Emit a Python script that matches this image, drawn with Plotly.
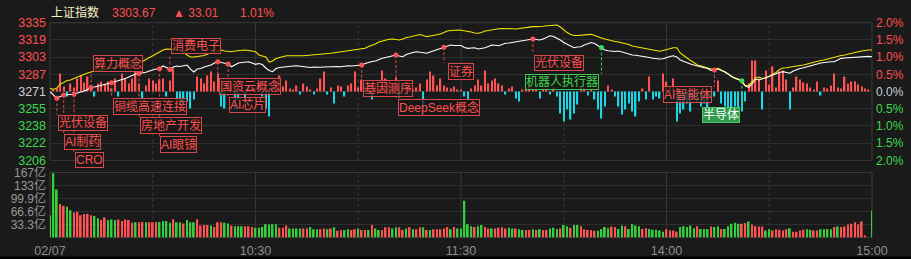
import plotly.graph_objects as go

# ---------------- data ----------------
PRE_CLOSE = 3270.66
INDEX_NAME = "上证指数"

# one value per minute, 09:30 ... 11:30 | 13:01 ... 15:00  (241 points)
price = [
    3270.47, 3267.33, 3264.2, 3265.91, 3267.33, 3267.5, 3267.81, 3268.0, 3269.2, 3269.9,
    3271.1, 3272.6, 3274.5, 3274.9, 3275.9, 3276.4, 3277.3, 3278.3, 3279.0, 3280.2,
    3281.1, 3282.1, 3283.0, 3284.4, 3285.9, 3287.3, 3287.8, 3288.2, 3288.9, 3290.1,
    3291.1, 3292.0, 3292.3, 3294.9, 3293.5, 3291.6, 3294.0, 3294.9, 3294.4, 3295.4,
    3295.8, 3292.0, 3289.2, 3292.0, 3292.5, 3294.0, 3294.9, 3295.8, 3297.8, 3299.0,
    3298.2, 3297.3, 3296.8, 3294.2, 3296.3, 3297.8, 3298.2, 3298.7, 3299.0, 3297.8,
    3296.5, 3297.3, 3296.3, 3293.0, 3290.6, 3289.5, 3292.5, 3293.5, 3294.0, 3294.2,
    3294.4, 3294.9, 3295.2, 3294.9, 3294.4, 3294.0, 3293.5, 3294.0, 3293.5, 3293.7,
    3294.0, 3294.2, 3294.2, 3294.0, 3294.4, 3294.2, 3294.9, 3295.2, 3294.9, 3295.4,
    3295.6, 3295.8, 3297.3, 3298.4, 3299.2, 3299.7, 3301.1, 3302.2, 3303.0, 3303.7,
    3304.9, 3305.4, 3304.4, 3303.7, 3305.8, 3307.0, 3307.7, 3308.5, 3307.9, 3307.7,
    3307.0, 3308.2, 3309.2, 3310.6, 3311.7, 3312.7, 3313.9, 3314.9, 3314.4, 3314.2,
    3314.4, 3312.5, 3311.7, 3312.0, 3312.3, 3311.1, 3311.5, 3312.3, 3313.4, 3314.9,
    3314.6, 3314.2, 3315.3, 3316.5, 3316.8, 3317.4, 3317.7, 3318.0, 3318.7, 3319.6,
    3320.1, 3320.6, 3320.1, 3319.6, 3320.6, 3321.8, 3323.7, 3323.0, 3321.5, 3319.6,
    3317.2, 3315.3, 3313.4, 3312.3, 3313.0, 3313.2, 3314.9, 3315.8, 3317.2, 3316.3,
    3314.4, 3312.5, 3310.1, 3309.4, 3308.7, 3308.7, 3309.2, 3308.2, 3307.0, 3306.3,
    3305.4, 3305.1, 3304.7, 3304.4, 3303.7, 3303.0, 3302.2, 3301.8, 3301.6, 3301.8,
    3302.5, 3303.9, 3304.7, 3303.5, 3300.6, 3299.2, 3297.5, 3296.8, 3295.8, 3295.2,
    3294.4, 3293.3, 3292.5, 3290.6, 3291.1, 3292.0, 3290.6, 3289.5, 3287.3, 3284.7,
    3283.0, 3282.1, 3280.9, 3275.9, 3274.5, 3277.8, 3282.5, 3281.6, 3282.5, 3283.8,
    3284.9, 3286.3, 3287.8, 3288.7, 3289.5, 3288.7, 3288.0, 3290.1, 3291.6, 3292.5,
    3293.3, 3294.0, 3294.9, 3295.8, 3296.8, 3297.8, 3298.4, 3298.7, 3298.9, 3299.0,
    3300.6, 3302.2, 3302.5, 3302.8, 3303.2, 3303.5, 3303.6, 3303.7, 3303.9, 3304.1,
    3303.67,
]

# yellow line (unweighted index)
avg_price = [
    3273.7, 3272.6, 3274.0, 3277.8, 3279.2, 3281.1, 3281.6, 3283.0, 3284.9, 3286.3,
    3287.0, 3288.2, 3289.5, 3290.1, 3290.6, 3291.1, 3291.6, 3292.0, 3292.5, 3293.3,
    3294.0, 3294.7, 3295.4, 3296.1, 3296.8, 3297.8, 3298.4, 3299.2, 3301.1, 3303.0,
    3304.9, 3306.3, 3308.2, 3310.1, 3311.1, 3311.1, 3310.6, 3310.6, 3310.1, 3308.2,
    3305.4, 3303.5, 3303.5, 3303.9, 3304.4, 3304.9, 3306.3, 3307.3, 3308.2, 3309.6,
    3310.1, 3309.2, 3308.7, 3308.5, 3309.2, 3309.6, 3310.1, 3310.1, 3309.6, 3309.2,
    3308.5, 3305.4, 3304.4, 3303.5, 3298.7, 3299.7, 3302.0, 3303.0, 3303.9, 3304.7,
    3304.7, 3304.9, 3304.7, 3304.7, 3304.7, 3304.9, 3305.1, 3305.4, 3305.6, 3306.0,
    3306.3, 3306.6, 3307.0, 3307.5, 3307.9, 3308.2, 3308.7, 3309.2, 3309.6, 3310.1,
    3310.6, 3311.1, 3311.7, 3313.4, 3314.4, 3315.8, 3317.7, 3318.7, 3319.6, 3320.3,
    3320.6, 3320.1, 3319.6, 3320.6, 3322.0, 3322.5, 3323.2, 3323.9, 3324.8, 3323.9,
    3322.8, 3323.4, 3323.9, 3324.4, 3325.3, 3326.7, 3328.2, 3328.6, 3329.1, 3329.1,
    3328.9, 3328.5, 3328.2, 3327.2, 3326.3, 3326.0, 3326.7, 3328.2, 3328.6, 3329.3,
    3330.1, 3330.3, 3330.6, 3330.7, 3330.6, 3330.3, 3330.1, 3330.6, 3331.2, 3332.0,
    3332.3, 3332.3, 3332.3, 3332.3, 3332.7, 3333.2, 3333.4, 3333.7, 3333.9, 3332.0,
    3329.1, 3326.7, 3324.8, 3323.9, 3323.9, 3324.2, 3324.4, 3324.7, 3325.0, 3323.9,
    3322.5, 3321.5, 3320.6, 3319.6, 3319.1, 3318.2, 3317.7, 3317.0, 3316.5, 3315.3,
    3313.9, 3313.2, 3312.5, 3311.8, 3311.1, 3310.4, 3309.8, 3309.2, 3308.9, 3309.6,
    3310.6, 3311.5, 3312.3, 3312.3, 3307.3, 3304.9, 3302.2, 3300.1, 3298.2, 3295.8,
    3295.1, 3294.2, 3293.5, 3292.0, 3292.0, 3292.7, 3291.1, 3289.5, 3287.3, 3284.7,
    3283.5, 3282.5, 3279.2, 3276.4, 3276.4, 3279.7, 3283.5, 3284.4, 3283.0, 3283.5,
    3285.4, 3287.3, 3288.7, 3291.6, 3293.0, 3293.3, 3294.0, 3294.4, 3294.9, 3295.4,
    3295.8, 3296.8, 3297.8, 3298.7, 3299.7, 3300.1, 3300.6, 3301.6, 3302.2, 3303.0,
    3303.9, 3304.9, 3305.4, 3306.3, 3307.3, 3308.0, 3308.5, 3309.2, 3309.8, 3310.1,
    3310.1,
]

# red / cyan breadth bars around the 0 % line (arbitrary units)
breadth = [
    0, 2, 3, 18, 5, -5, 8, 4, 13, 16,
    9, 15, 5, -5, 8, 10, 7, 10, 3, 13,
    -5, 18, 13, 8, 13, 20, 8, -7, 6, 13,
    11, 8, 12, 13, -5, 11, 23, -8, -12, -14,
    -10, -17, -8, 15, 13, 8, 16, 20, 10, 18,
    -15, -17, 10, 8, -18, -8, 5, -12, 6, 4,
    3, 10, -5, -17, -25, 4, 11, 16, 5, 11,
    3, 2, 6, -3, 8, 5, 2, -3, 3, 13,
    20, -3, 4, -12, 6, 5, -5, 6, 8, 20,
    4, 12, 6, 2, -8, 7, 3, 21, 13, 10,
    6, 14, -6, 8, 3, 5, 2, 4, 8, -17,
    12, 20, 16, 6, 13, 6, 4, 3, 5, 2,
    2, -5, -8, 3, 6, 12, 6, 21, 8, 11,
    13, 8, 6, -3, 3, 5, -7, -10, 2, 4,
    8, 3, 2, -7, 3, 2, -3, 4, -5, -22,
    -30, -18, -28, -22, -13, 5, 3, -4, 2, -8,
    -18, -27, -15, 6, 2, -5, -15, -23, -18, -12,
    -20, -25, -10, 3, -8, 15, -8, -5, -7, 18,
    10, 5, 13, -30, -22, -18, -12, -20, -8, -10,
    -15, -12, -22, -8, -5, 11, -12, -15, -22, -20,
    -15, -27, -20, -10, 8, 31, 31, 13, -18, 21,
    7, 25, 4, 20, 21, 12, -18, 4, 15, 12,
    9, 8, 4, 2, 10, -4, 4, 3, 6, 18,
    4, 3, 15, 8, 10, 10, 7, 5, 3, 2,
    0,
]

# turnover per minute, 亿 (hundred million yuan)
volume = [
    57, 164.5, 123, 86, 81, 79, 70, 64, 66, 57,
    60, 60, 57, 55, 49, 45, 51, 45, 46, 45,
    46, 42, 46, 45, 38, 39, 39, 40, 39, 39,
    39, 40, 40, 42, 42, 38, 47, 39, 39, 36,
    45, 39, 39, 47, 31, 32, 32, 31, 27, 39,
    39, 38, 36, 31, 29, 29, 29, 29, 29, 27,
    25, 25, 27, 34, 33, 34, 34, 25, 25, 31,
    23, 23, 23, 23, 23, 23, 27, 21, 21, 21,
    23, 21, 23, 26, 17, 19, 19, 21, 19, 21,
    23, 19, 19, 19, 32, 23, 19, 19, 26, 26,
    23, 26, 26, 19, 23, 26, 21, 21, 26, 26,
    19, 19, 21, 21, 21, 23, 27, 21, 27, 23,
    23, 94, 34, 29, 27, 29, 32, 27, 23, 23,
    23, 25, 26, 23, 25, 23, 23, 21, 19, 19,
    19, 21, 19, 21, 19, 19, 23, 25, 22, 23,
    32, 29, 25, 32, 32, 29, 21, 19, 19, 17,
    17, 22, 27, 24, 28, 27, 22, 31, 29, 22,
    35, 31, 29, 22, 24, 22, 20, 20, 18, 15,
    21, 18, 18, 15, 27, 29, 27, 31, 24, 29,
    22, 22, 22, 28, 27, 28, 22, 22, 29, 35,
    38, 35, 35, 37, 41, 33, 29, 28, 28, 18,
    21, 18, 21, 20, 18, 21, 24, 15, 15, 18,
    20, 21, 20, 18, 18, 21, 21, 22, 21, 27,
    28, 27, 28, 33, 35, 39, 33, 41, 5, 0,
    69,
]
# R = up minute (red bar), G = down minute (green bar)
volume_dir = "".join([
    "GGGRRGGRRR", "RRRGGRRGGG", "RRRRRGRRGR", "RRGGGGRGGR", "GGGRRRRGRR",
    "RGGRGGGRRR", "GGGGGGGRRR", "GGGGRRGGGR", "RGRGRRGGRR", "GRRGRGGRRR",
    "GGRRGRGRRG", "RGRRRRRGRG", "GGGGRGGRRG", "RRRRGGRGGR", "RGRGRRGGGR",
    "GGRGGRRRRR", "GGGGRRGGRG", "GGGRRGGGGG", "RRRRGGGGGR", "GGGRGGRGGG",
    "GGRRGRRRRG", "GRRRRRGRRR", "RGGRRGGGGR", "GRRRRRRRRR", "G",
])

price_tick_labels = ["3206", "3222", "3238", "3255", "3271", "3287", "3303", "3319", "3335"]
pct_tick_labels = ["2.0%", "1.5%", "1.0%", "0.5%", "0.0%", "0.5%", "1.0%", "1.5%", "2.0%"]
vol_tick_values = [33.3, 66.6, 99.9, 133.2, 166.5]
vol_tick_labels = ["33.3亿", "66.6亿", "99.9亿", "133亿", "167亿"]
time_tick_index = [0, 60, 120, 180, 240]
time_tick_labels = ["02/07", "10:30", "11:30", "14:00", "15:00"]

# theme events: label, minute index of the marker, style
events = [
    ("光伏设备", 2, "red"),
    ("AI制药", 4, "red"),
    ("CRO", 7, "red"),
    ("算力概念", 12, "red"),
    ("铜缆高速连接", 18, "red"),
    ("房地产开发", 26, "red"),
    ("AI眼镜", 32, "red"),
    ("消费电子", 35, "red"),
    ("国资云概念", 49, "red"),
    ("AI芯片", 52, "red"),
    ("基因测序", 91, "red"),
    ("DeepSeek概念", 101, "red"),
    ("证券", 115, "red"),
    ("光伏设备", 141, "red"),
    ("机器人执行器", 161, "green"),
    ("AI智能体", 194, "red"),
    ("半导体", 202, "greenfill"),
]

# ---------------- layout geometry (pixels) ----------------
W, H = 911, 259
X0, X1 = 50, 872
PT, PB = 22.7, 160.3      # price panel top / bottom
VT, VB = 172.5, 237.5     # volume panel top / bottom
N_MIN = 240

# label box centres in pixels (layout only)
label_centres = [
    (82.7, 123), (82.5, 142), (89, 160), (118, 64), (150, 106.3), (170.8, 125.5),
    (178.8, 144.7), (195.5, 46), (250, 86), (247.2, 104.7), (388, 88.8),
    (438.8, 107.8), (460.8, 71.2), (559, 62.7), (562, 82), (687.8, 95), (720.8, 115),
]

BG = "#1a1a1a"
GRID = "#2e2e2e"
BORDER = "#3a3a3a"
RED = "#ff5252"
GREEN = "#36cf3c"
CYAN = "#1ad6e6"
YELLOW = "#f2e600"
TXT_RED = "#ff4f4f"
TXT_GREEN = "#3dd94d"
TXT_NEUTRAL = "#c9ced8"
TXT_GRAY = "#979797"
FONT = "Liberation Sans, Noto Sans CJK SC, sans-serif"

lo, hi = PRE_CLOSE * 0.98, PRE_CLOSE * 1.02
price_per_px = (hi - lo) / (PB - PT)
pct_per_px = 4.0 / (PB - PT)


def px_to_paper_x(px):
    return px / W


def px_to_paper_y(py):
    return 1 - py / H


def py_to_price(py):
    return hi - (py - PT) * price_per_px


minutes = list(range(len(price)))
assert len(price) == len(avg_price) == len(breadth) == len(volume) == len(volume_dir) == 241

fig = go.Figure()

# breadth bars on the right-hand percent axis (main axis of the price panel)
fig.add_trace(go.Bar(
    x=minutes, y=[b * pct_per_px for b in breadth],
    marker=dict(color=[RED if b >= 0 else CYAN for b in breadth], line=dict(width=0)),
    width=0.4, xaxis="x", yaxis="y", hoverinfo="skip", showlegend=False,
))
# index lines on the left-hand price axis (overlay)
fig.add_trace(go.Scatter(
    x=minutes, y=avg_price, mode="lines", line=dict(color=YELLOW, width=1.1),
    xaxis="x", yaxis="y4", showlegend=False, hoverinfo="skip",
))
fig.add_trace(go.Scatter(
    x=minutes, y=price, mode="lines", line=dict(color="#ffffff", width=1.1),
    xaxis="x", yaxis="y4", showlegend=False, hoverinfo="skip",
))

# event markers, dashed leaders and labels
mk_x, mk_y, mk_c = [], [], []
shapes = []
annotations = []
for (name, idx, kind), (cx, cy) in zip(events, label_centres):
    col_line = "#e04848" if kind == "red" else "#3ccf55"
    mk_x.append(idx)
    mk_y.append(price[idx])
    mk_c.append(RED if kind == "red" else "#3ddc5a")
    marker_py = PT + (hi - price[idx]) / price_per_px
    edge_py = cy - 8.3 if cy > marker_py else cy + 8.3
    shapes.append(dict(type="line", xref="x", yref="y4", x0=idx, x1=idx,
                       y0=price[idx], y1=py_to_price(edge_py),
                       line=dict(color=col_line, width=1, dash="3px,2px"), layer="above"))
    if kind == "red":
        fc, bc, bg = TXT_RED, "#d84848", "rgba(24,24,24,0.78)"
    elif kind == "green":
        fc, bc, bg = TXT_GREEN, "#3cc457", "rgba(24,24,24,0.78)"
    else:
        fc, bc, bg = "#ffffff", "#4cc968", "#2e9c48"
    annotations.append(dict(
        text=name, x=px_to_paper_x(cx), y=px_to_paper_y(cy), xref="paper", yref="paper",
        showarrow=False, xanchor="center", yanchor="middle",
        font=dict(size=12, color=fc, family=FONT),
        bgcolor=bg, bordercolor=bc, borderwidth=1, borderpad=0,
    ))

fig.add_trace(go.Scatter(
    x=mk_x, y=mk_y, mode="markers", marker=dict(color=mk_c, size=5, line=dict(width=0)),
    xaxis="x", yaxis="y4", showlegend=False, hoverinfo="skip",
))

# volume bars
fig.add_trace(go.Bar(
    x=minutes, y=volume,
    marker=dict(color=[RED if d == "R" else GREEN for d in volume_dir], line=dict(width=0)),
    width=0.5, xaxis="x2", yaxis="y2", hoverinfo="skip", showlegend=False,
))

# vertical grid lines
for xi, dash in [(30, "dot"), (60, "solid"), (90, "dot"), (120, "solid"),
                 (150, "dot"), (180, "solid"), (210, "dot")]:
    for xr, yr in [("x", "y domain"), ("x2", "y2 domain")]:
        shapes.append(dict(type="line", xref=xr, yref=yr, x0=xi, x1=xi, y0=0, y1=1,
                           line=dict(color="#363636" if dash == "solid" else "#3c3c3c",
                                     width=1, dash=dash), layer="below"))
# panel frames
for xr, yr in [("x domain", "y domain"), ("x2 domain", "y2 domain")]:
    shapes.append(dict(type="rect", xref=xr, yref=yr, x0=0, x1=1, y0=0, y1=1,
                       line=dict(color=BORDER, width=1), layer="below"))
# dark strip at the very bottom
shapes.append(dict(type="rect", xref="paper", yref="paper", x0=0, x1=1, y0=0, y1=2.5 / H,
                   fillcolor="#000000", line=dict(width=0), layer="above"))

# header
last = price[-1]
chg = last - PRE_CLOSE
pct = chg / PRE_CLOSE * 100
hdr_y = px_to_paper_y(12.5)
for txt, px, col in [(INDEX_NAME, 49, "#f3f1c4"), (f"{last:.2f}", 110, TXT_RED),
                     (f"▲ {chg:.2f}", 171, TXT_RED), (f"{pct:.2f}%", 238, TXT_RED)]:
    annotations.append(dict(text=txt, x=px_to_paper_x(px), y=hdr_y, xref="paper", yref="paper",
                            showarrow=False, xanchor="left", yanchor="middle",
                            font=dict(size=12, color=col, family=FONT)))


def coloured(labels, n_mid):
    out = []
    for k, t in enumerate(labels):
        c = TXT_GREEN if k < n_mid else (TXT_NEUTRAL if k == n_mid else TXT_RED)
        out.append(f'<span style="color:{c}">{t}</span>')
    return out


price_tick_vals = [PRE_CLOSE * (1 + 0.005 * k) for k in range(-4, 5)]
pct_tick_vals = [0.5 * k for k in range(-4, 5)]
xdom = [X0 / W, X1 / W]

fig.update_layout(
    width=W, height=H, margin=dict(l=0, r=0, t=0, b=0, autoexpand=False),
    paper_bgcolor=BG, plot_bgcolor=BG, showlegend=False,
    font=dict(family=FONT, size=12, color=TXT_GRAY),
    barmode="overlay",
    xaxis=dict(domain=xdom, range=[0, N_MIN], anchor="y", showticklabels=False,
               showgrid=False, zeroline=False, showline=False, fixedrange=True,
               automargin=False),
    yaxis=dict(domain=[1 - PB / H, 1 - PT / H], range=[-2, 2], anchor="x", side="right",
               tickvals=pct_tick_vals, ticktext=coloured(pct_tick_labels, 4),
               tickfont=dict(size=12, family=FONT), ticks="", ticklabelstandoff=3,
               showgrid=True, gridcolor=GRID, gridwidth=1, zeroline=False, showline=False,
               automargin=False),
    yaxis4=dict(overlaying="y", side="left", anchor="x", range=[lo, hi],
                tickvals=price_tick_vals, ticktext=coloured(price_tick_labels, 4),
                tickfont=dict(size=12.5, family=FONT), ticks="", ticklabelstandoff=3,
                showgrid=False, zeroline=False, showline=False, automargin=False),
    xaxis2=dict(domain=xdom, range=[0, N_MIN], anchor="y2",
                tickvals=time_tick_index, ticktext=time_tick_labels,
                tickfont=dict(size=12.5, color="#8e8e8e", family=FONT), ticks="",
                ticklabelstandoff=4, showgrid=False, zeroline=False, showline=False,
                automargin=False),
    yaxis2=dict(domain=[1 - VB / H, 1 - VT / H], range=[0, 166.5], anchor="x2",
                tickvals=vol_tick_values, ticktext=vol_tick_labels,
                tickfont=dict(size=12, color=TXT_GRAY, family=FONT), ticks="",
                ticklabelstandoff=3, showgrid=True, gridcolor=GRID, zeroline=False,
                showline=False, automargin=False),
    shapes=shapes,
    annotations=annotations,
)

fig.write_html("out.html")
